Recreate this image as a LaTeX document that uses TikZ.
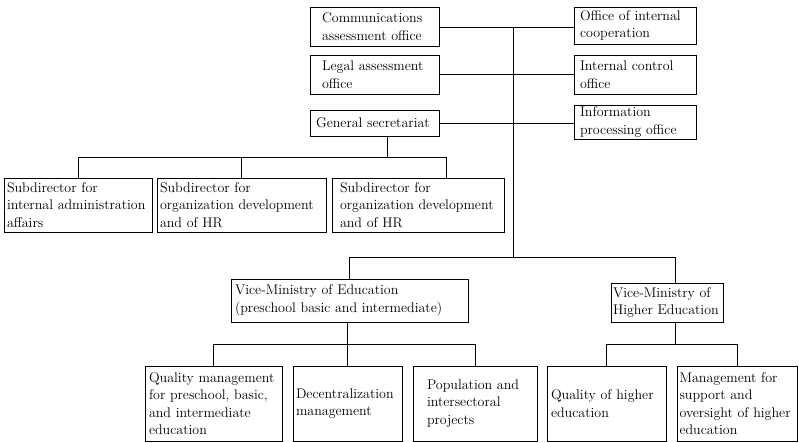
\documentclass[tikz,border=0pt]{standalone}
\usepackage{tikz}
\usetikzlibrary{positioning}

\begin{document}
\begin{tikzpicture}[x=1pt,y=-1pt,line width=0.8pt,
		unit/.style={rectangle,draw,align=left,inner xsep=3pt,inner ysep=0pt,
			font=\fontsize{14}{17.5}\selectfont}]

		\useasboundingbox (0,0) rectangle (799,442);

		% staff offices
		\node[unit,inner xsep=12pt,text width=105pt,minimum height=39pt] (comm) at (374.5,26.5) {Communications\\assessment office};
		\node[unit,inner xsep=12pt,text width=105pt,minimum height=39pt] (legal) at (374.5,74.5) {Legal assessment\\office};
		\node[unit,inner xsep=6pt,text width=117pt,minimum height=26pt] (gensec) at (374.5,123) {General secretariat};
		\node[unit,inner xsep=6pt,text width=110pt,minimum height=37pt] (coop) at (635,25.5) {Office of internal\\cooperation};
		\node[unit,inner xsep=6pt,text width=110pt,minimum height=39pt] (control) at (635,74.5) {Internal control\\office};
		\node[unit,inner xsep=6pt,text width=110pt,minimum height=34pt] (info) at (635,122) {Information\\processing office};

		% subdirectors
		\node[unit,text width=142pt,minimum height=54pt] (sub1) at (78,205) {Subdirector for\\internal administration\\affairs};
		\node[unit,text width=163pt,minimum height=54pt] (sub2) at (241.5,205) {Subdirector for\\organization development\\and of HR};
		\node[unit,inner xsep=8pt,text width=156pt,minimum height=54pt] (sub3) at (418,205) {Subdirector for\\organization development\\and of HR};

		% vice-ministries
		\node[unit,inner xsep=4pt,text width=229pt,minimum height=43pt] (vmedu) at (349.5,300.5) {Vice-Ministry of Education\\(preschool basic and intermediate)};
		\node[unit,inner xsep=2pt,text width=108pt,minimum height=39pt] (vmhigh) at (667,302.5) {Vice-Ministry of\\Higher Education};

		% directorates
		\node[unit,inner xsep=4pt,text width=129pt,minimum height=75pt] (quality) at (213.5,403.5) {Quality management\\for preschool, basic,\\and intermediate\\education};
		\node[unit,inner xsep=3pt,text width=103pt,minimum height=75pt] (decent) at (347.5,403.5) {Decentralization\\management};
		\node[unit,inner xsep=14pt,text width=96pt,minimum height=75pt] (popul) at (475,403.5) {Population and\\intersectoral\\projects};
		\node[unit,inner xsep=4pt,text width=111pt,minimum height=75pt] (qhigh) at (606.5,403.5) {Quality of higher\\education};
		\node[unit,inner xsep=2.5pt,text width=115pt,minimum height=75pt] (support) at (737,403.5) {Management for\\support and\\oversight of higher\\education};

		% junctions
		\coordinate (trunktop) at (513,27);
		\coordinate (trunkbot) at (513,257);
		\coordinate (subbar) at (387,157);
		\coordinate (edubar) at (347,344);
		\coordinate (highbar) at (675,344);

		% connectors
		\draw (trunktop) -- (trunkbot);
		\draw (comm.east |- trunktop) -- (coop.west |- trunktop);
		\draw (legal.east) -- (legal.east -| control.west);
		\draw (gensec.east) -- (gensec.east -| info.west);

		\draw (gensec.south -| subbar) -- (subbar);
		\draw (subbar -| sub1.north) -- ([xshift=28pt]subbar -| sub3.north);
		\draw (subbar -| sub1.north) -- (sub1.north);
		\draw (subbar -| sub2.north) -- (sub2.north);
		\draw ([xshift=28pt]subbar -| sub3.north) -- ([xshift=28pt]sub3.north);

		\draw (trunkbot -| vmedu.north) -- (trunkbot -| highbar);
		\draw (trunkbot -| vmedu.north) -- (vmedu.north);
		\draw (trunkbot -| highbar) -- (vmhigh.north -| highbar);

		\draw (vmedu.south -| edubar) -- (edubar);
		\draw (edubar -| quality.north) -- (edubar -| popul.north);
		\draw (edubar -| quality.north) -- (quality.north);
		\draw (edubar) -- (decent.north -| edubar);
		\draw (edubar -| popul.north) -- (popul.north);

		\draw (vmhigh.south -| highbar) -- (highbar);
		\draw (highbar -| qhigh.north) -- (highbar -| support.north);
		\draw (highbar -| qhigh.north) -- (qhigh.north);
		\draw (highbar -| support.north) -- (support.north);

\end{tikzpicture}
\end{document}
